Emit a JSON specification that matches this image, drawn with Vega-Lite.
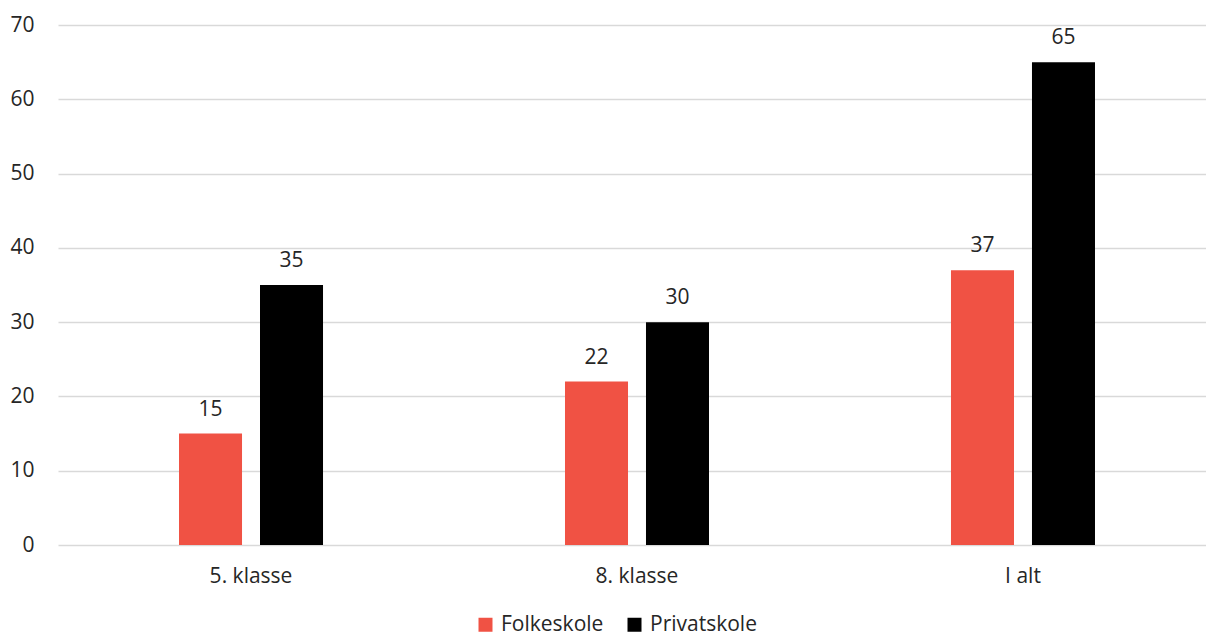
{
  "$schema": "https://vega.github.io/schema/vega-lite/v6.json",
  "width": 1147,
  "height": 520,
  "autosize": {"type": "none"},
  "padding": {"left": 58, "top": 25, "right": 1, "bottom": 93},
  "background": "#ffffff",
  "config": {
    "font": "Open Sans",
    "view": {"stroke": null},
    "axis": {"labelFont": "Open Sans", "labelColor": "#262626", "labelFontSize": 21}
  },
  "data": {
    "values": [
      {"klasse": "5. klasse", "skole": "Folkeskole", "antal": 15},
      {"klasse": "5. klasse", "skole": "Privatskole", "antal": 35},
      {"klasse": "8. klasse", "skole": "Folkeskole", "antal": 22},
      {"klasse": "8. klasse", "skole": "Privatskole", "antal": 30},
      {"klasse": "I alt", "skole": "Folkeskole", "antal": 37},
      {"klasse": "I alt", "skole": "Privatskole", "antal": 65}
    ]
  },
  "encoding": {
    "x": {
      "field": "klasse",
      "type": "nominal",
      "sort": null,
      "scale": {"range": [0, 1158], "paddingInner": 0.6269, "paddingOuter": 0.3135},
      "axis": {"title": null, "labelAngle": 0, "domain": false, "ticks": false, "labelPadding": 20}
    },
    "xOffset": {
      "field": "skole",
      "type": "nominal",
      "scale": {"paddingInner": 0.222, "paddingOuter": 0}
    },
    "y": {
      "field": "antal",
      "type": "quantitative",
      "scale": {"domain": [0, 70], "nice": false},
      "axis": {
        "title": null,
        "values": [0, 10, 20, 30, 40, 50, 60, 70],
        "domain": false,
        "ticks": false,
        "labelPadding": 24,
        "gridColor": "#d9d9d9",
        "gridWidth": 1.5
      }
    }
  },
  "layer": [
    {
      "mark": {"type": "bar"},
      "encoding": {
        "color": {
          "field": "skole",
          "type": "nominal",
          "scale": {"domain": ["Folkeskole", "Privatskole"], "range": ["#f05244", "#000000"]},
          "legend": {
            "title": null,
            "orient": "none",
            "direction": "horizontal",
            "legendX": 417,
            "legendY": 589,
            "symbolType": "square",
            "symbolSize": 196,
            "symbolStrokeWidth": 0,
            "symbolOpacity": 1,
            "labelFont": "Open Sans",
            "labelFontSize": 21,
            "labelColor": "#262626",
            "labelOffset": 5,
            "columnPadding": 20,
            "padding": 0
          }
        }
      }
    },
    {
      "mark": {"type": "text", "baseline": "alphabetic", "dy": -18, "fontSize": 21, "font": "Open Sans", "color": "#262626"},
      "encoding": {"text": {"field": "antal", "type": "quantitative"}}
    }
  ]
}
